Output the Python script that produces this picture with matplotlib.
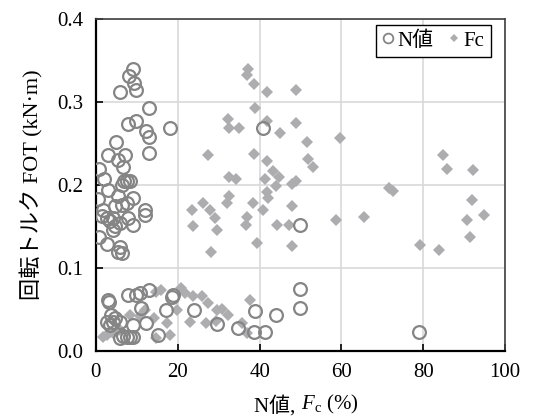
import matplotlib
matplotlib.use("Agg")
import matplotlib.pyplot as plt
from matplotlib.lines import Line2D

plt.rcParams["font.family"] = ["Liberation Serif", "Noto Sans CJK JP"]
plt.rcParams["mathtext.fontset"] = "custom"
plt.rcParams["mathtext.rm"] = "Liberation Serif"
plt.rcParams["mathtext.it"] = "Liberation Serif:italic"

# N値 (circles)
n_x = [9.1, 8.2, 9.4, 6.0, 9.9, 13.0, 7.9, 9.9, 12.2, 13.0, 18.1, 13.0, 4.9, 3.0,
       7.1, 5.5, 6.7, 0.7, 2.0, 3.0, 0.6, 6.8, 7.5, 8.3, 6.3, 5.5, 9.1, 7.5, 4.6,
       6.3, 1.8, 1.4, 2.6, 4.2, 5.9, 7.9, 9.1, 11.9, 11.9, 4.6, 0.8, 2.6, 5.9, 5.5,
       6.3, 3.4, 4.2, 49.8, 40.9,
       3.0, 3.2, 7.9, 9.9, 10.7, 13.0, 18.9, 18.7, 49.8, 49.8, 11.1, 17.1, 23.9,
       38.8, 44.1, 3.8, 4.6, 2.6, 4.2, 5.9, 9.1, 12.2, 29.6, 34.8, 38.6, 41.3,
       79.0, 15.2, 5.9, 7.5, 9.1, 6.7, 8.3, 3.4]
n_y = [0.340, 0.331, 0.323, 0.312, 0.314, 0.293, 0.273, 0.277, 0.265, 0.257, 0.269,
       0.238, 0.252, 0.236, 0.236, 0.230, 0.222, 0.219, 0.207, 0.194, 0.183, 0.205,
       0.205, 0.204, 0.200, 0.186, 0.184, 0.178, 0.174, 0.176, 0.170, 0.162, 0.160,
       0.160, 0.154, 0.160, 0.152, 0.170, 0.164, 0.150, 0.137, 0.129, 0.125, 0.119,
       0.118, 0.156, 0.146, 0.152, 0.269,
       0.061, 0.059, 0.067, 0.067, 0.069, 0.073, 0.067, 0.065, 0.074, 0.051, 0.051,
       0.049, 0.049, 0.048, 0.043, 0.043, 0.039, 0.035, 0.035, 0.034, 0.031, 0.033,
       0.032, 0.027, 0.022, 0.022, 0.022, 0.019, 0.015, 0.017, 0.017, 0.018, 0.016,
       0.031]

# Fc (diamonds)
fc_x = [37.2, 37.0, 38.6, 41.9, 49.0, 38.8, 32.3, 32.6, 35.0, 41.7, 45.0, 48.9,
        59.6, 51.6, 51.8, 53.1, 27.4, 38.6, 41.7, 43.2, 44.8, 32.6, 34.2, 41.3,
        41.7, 42.1, 43.9, 48.0, 49.0, 32.6, 32.1, 26.1, 23.4, 27.9, 38.4, 40.9,
        47.8, 71.7, 72.6, 84.9, 85.7, 92.2, 92.0, 94.8, 90.6, 91.4, 83.9, 79.2,
        58.6, 65.5, 29.1, 29.5, 23.8, 37.0, 36.6, 44.3, 47.1, 47.8, 39.4, 28.1,
        20.9, 21.8, 14.8, 23.8, 19.7, 22.9, 27.4, 30.9, 32.3, 37.6, 29.5, 27.0,
        29.3, 35.8, 36.8, 17.3, 18.1, 14.1, 11.9, 10.7, 8.3, 2.6, 1.8, 4.2, 5.9,
        14.8, 15.8, 25.8, 3.4]
fc_y = [0.340, 0.332, 0.322, 0.312, 0.314, 0.293, 0.279, 0.269, 0.269, 0.277,
        0.263, 0.274, 0.256, 0.252, 0.231, 0.221, 0.236, 0.237, 0.229, 0.217,
        0.209, 0.209, 0.207, 0.207, 0.191, 0.184, 0.199, 0.201, 0.204, 0.186,
        0.178, 0.178, 0.170, 0.170, 0.178, 0.170, 0.174, 0.196, 0.193, 0.236,
        0.219, 0.218, 0.182, 0.164, 0.157, 0.137, 0.121, 0.127, 0.158, 0.161,
        0.160, 0.146, 0.150, 0.161, 0.152, 0.152, 0.151, 0.126, 0.130, 0.119,
        0.075, 0.069, 0.071, 0.066, 0.049, 0.034, 0.058, 0.050, 0.043, 0.061,
        0.049, 0.033, 0.036, 0.033, 0.021, 0.033, 0.019, 0.039, 0.049, 0.042,
        0.043, 0.019, 0.017, 0.021, 0.025, 0.015, 0.073, 0.066, 0.023]

fig = plt.figure(figsize=(5.42, 4.19), dpi=100)
ax = fig.add_axes([0.177, 0.163, 0.755, 0.792])

ax.plot(fc_x, fc_y, linestyle="none", marker="D", markersize=6,
        color="#adadb0", markeredgewidth=0, label="Fc", zorder=3)
ax.plot(n_x, n_y, linestyle="none", marker="o", markersize=9.2,
        markerfacecolor="none", markeredgecolor="#858585", markeredgewidth=1.6,
        label="N値", zorder=4)

ax.set_xlim(0, 100)
ax.set_ylim(0, 0.4)
ax.set_xticks([0, 20, 40, 60, 80, 100])
ax.set_yticks([0.0, 0.1, 0.2, 0.3, 0.4])
ax.set_yticklabels(["0.0", "0.1", "0.2", "0.3", "0.4"])
ax.grid(True, color="#d9d9d9", linewidth=1.2, zorder=0)
ax.set_axisbelow(True)
ax.tick_params(direction="in", length=5, labelsize=15, width=1.2)
ax.tick_params(axis="x", pad=9)
ax.tick_params(axis="y", pad=9)
for s in ["left", "bottom"]:
    ax.spines[s].set_linewidth(1.6)
    ax.spines[s].set_color("black")
for s in ["top", "right"]:
    ax.spines[s].set_linewidth(1.2)
    ax.spines[s].set_color("#404040")

# x軸ラベル: 漢字部分と斜体 F_c を分けて描く
t1 = ax.text(0.5, -0.135, "N値, ", transform=ax.transAxes, fontsize=15,
             ha="right", va="top")
ax.annotate("$F$$_\\mathrm{c}$ (%)", xy=(1, 0), xycoords=t1, fontsize=15,
            ha="left", va="bottom")
ax.set_ylabel("回転トルク FOT (kN·m)", fontsize=16, labelpad=10)

h = [Line2D([], [], linestyle="none", marker="o", markersize=7, markerfacecolor="none",
            markeredgecolor="#858585", markeredgewidth=1.3),
     Line2D([], [], linestyle="none", marker="D", markersize=4.5, color="#adadb0",
            markeredgewidth=0)]
leg = ax.legend(h, ["N値", "Fc"], loc="upper right", ncol=2, fontsize=15,
                fancybox=False, framealpha=1, edgecolor="black",
                handlelength=0.6, handletextpad=0.15, columnspacing=0.7,
                borderpad=0.3, borderaxespad=0, bbox_to_anchor=(0.965, 0.982))
leg.get_frame().set_linewidth(1.0)

plt.savefig("out.png", dpi=100)
